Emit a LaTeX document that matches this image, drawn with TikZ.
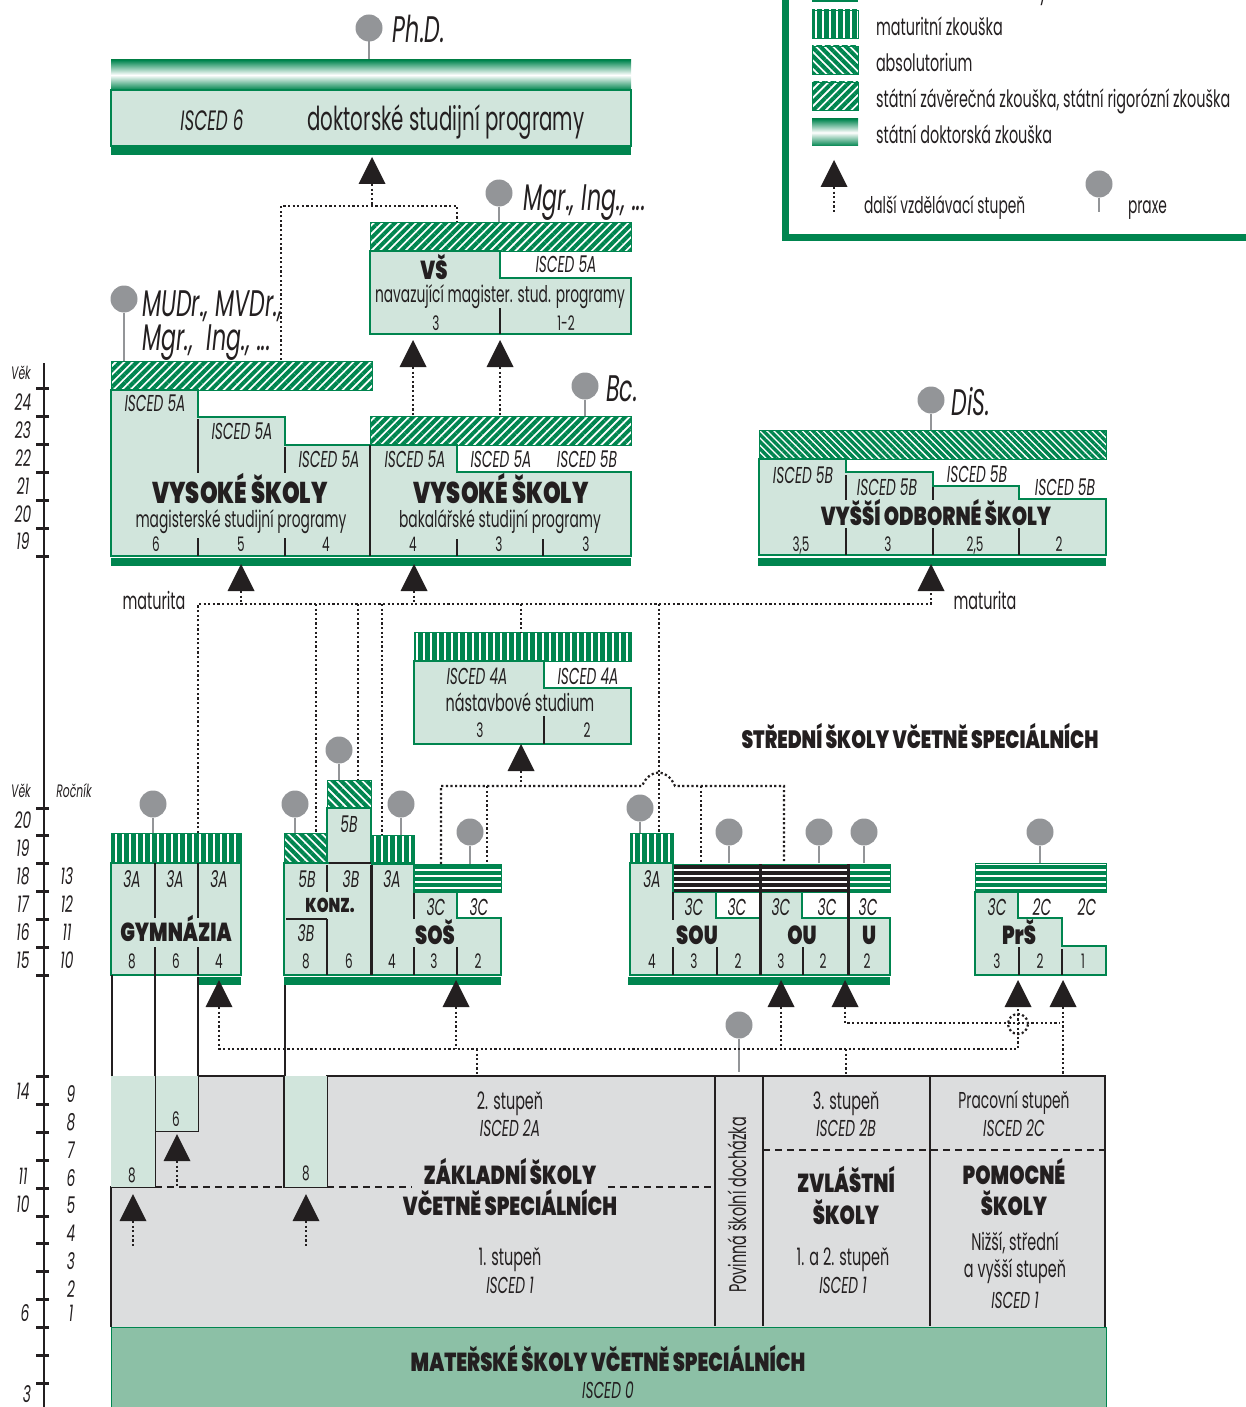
\documentclass[tikz,border=0pt]{standalone}
\usepackage{fontspec}
\setmainfont[FakeStretch=0.6]{Poppins}
\newfontfamily\hvfont[FakeStretch=0.75]{Poppins Black}
\usetikzlibrary{shapes.geometric,patterns.meta}
\definecolor{dgreen}{HTML}{00854F}
\definecolor{lgreen}{HTML}{D1E5DC}
\definecolor{mgreen}{HTML}{8CC0A6}
\definecolor{sgray}{HTML}{DCDDDE}
\definecolor{pgray}{HTML}{939598}
\definecolor{ink}{HTML}{231F20}

\begin{document}
\begin{tikzpicture}[x=1pt,y=-1pt,
  every node/.style={inner sep=0pt, outer sep=0pt, text=ink},
  num/.style={text height=14pt, text depth=0pt, font=\fontsize{20}{21}\selectfont},
  lab/.style={text height=16pt, text depth=0pt, font=\fontsize{24}{26}\selectfont},
  lbs/.style={text height=15pt, text depth=0pt, font=\fontsize{23}{25}\selectfont},
  isc/.style={text height=16pt, text depth=0pt, font=\fontsize{23}{25}\selectfont\itshape},
  sml/.style={text height=12pt, text depth=0pt, font=\fontsize{18}{19}\selectfont\itshape},
  big/.style={text height=26pt, text depth=0pt, font=\fontsize{37}{39}\selectfont\itshape},
  hv/.style={text height=18pt, text depth=0pt, font=\fontsize{26}{28}\hvfont},
  hvbig/.style={text height=21pt, text depth=0pt, font=\fontsize{30}{32}\hvfont},
  box/.style={fill=lgreen, draw=dgreen, line width=1.3pt},
  bar/.style={fill=dgreen},
  zkmat/.style={draw=dgreen, line width=.8pt, pattern={Lines[angle=90,distance=7pt,line width=5pt]}, pattern color=dgreen},
  zkabs/.style={draw=dgreen, line width=.8pt, pattern={Lines[angle=-45,distance=6pt,line width=4pt]}, pattern color=dgreen},
  zkfin/.style={draw=dgreen, line width=.8pt, pattern={Lines[angle=-45,distance=5pt,line width=3.4pt]}, pattern color=dgreen},
  zkst/.style={draw=dgreen, line width=.8pt, pattern={Lines[angle=45,distance=6pt,line width=4pt]}, pattern color=dgreen},
  zkhor/.style={draw=dgreen, line width=.8pt, pattern={Lines[angle=0,distance=6pt,line width=4.4pt]}, pattern color=dgreen},
  zkblk/.style={draw=dgreen, line width=.8pt, pattern={Lines[angle=0,distance=6pt,line width=4.4pt]}, pattern color=ink},
  tik/.style={draw=ink, line width=2pt},
  agetik/.style={draw=ink, line width=3pt},
  wall/.style={draw=ink, line width=3pt},
  rim/.style={draw=ink, line width=1.2pt},
  dashln/.style={draw=ink, line width=1.2pt, dash pattern=on 7pt off 5pt},
  dots/.style={draw=ink, line width=2.2pt, dash pattern=on 2.2pt off 2.4pt},
  stem/.style={draw=pgray, line width=2.2pt},
  pinhead/.style={circle, fill=pgray, minimum size=27pt},
  up/.style={isosceles triangle, shape border rotate=90, isosceles triangle stretches, minimum width=27pt, minimum height=27pt, fill=ink, anchor=apex}]
\useasboundingbox (0,0) rectangle (1246,1407);

% legend
\draw[dgreen, line width=7pt] (785,-20) -- (785,237) -- (1270,237);
\fill[bar] (812,-10) rectangle (858,2);
\path[zkmat] (812,10) rectangle (858,38);
\path[zkabs] (812,46) rectangle (858,74);
\path[zkst] (812,82) rectangle (858,110);
\shade[top color=dgreen, bottom color=dgreen, middle color=white] (812,119) rectangle (858,146);
\node[lab, anchor=west] (lgzav) at (876,-8) {Závěrečná zkouška a výuční list};
\node[lab, anchor=west] (lgmat) at (876,28) {maturitní zkouška};
\node[lab, anchor=west] (lgabs) at (876,64) {absolutorium};
\node[lab, anchor=west] (lgst) at (876,100) {státní závěrečná zkouška, státní rigorózní zkouška};
\node[lab, anchor=west] (lgdok) at (876,136) {státní doktorská zkouška};
\node[up] (lgup) at (834,160) {};
\coordinate (lgupend) at (834,213);
\draw[dots] (lgup.lower side) -- (lgupend);
\node[lbs, anchor=west] (lgdal) at (864,206) {další vzdělávací stupeň};
\node[pinhead] (lgpin) at (1099,184) {};
\coordinate (lgpinend) at (1099,212);
\draw[stem] (lgpin) -- (lgpinend);
\node[lbs, anchor=west] (lgpra) at (1128,206) {praxe};

% age scale
\draw[line width=2.4pt, ink] (44,363) -- (44,1420);
\draw[agetik] (36,388) -- (49,388);
\draw[agetik] (36,416) -- (49,416);
\draw[agetik] (36,444) -- (49,444);
\draw[agetik] (36,472) -- (49,472);
\draw[agetik] (36,500) -- (49,500);
\draw[agetik] (36,528) -- (49,528);
\draw[agetik] (36,556) -- (49,556);
\draw[agetik] (36,808) -- (49,808);
\draw[agetik] (36,835) -- (49,835);
\draw[agetik] (36,863) -- (49,863);
\draw[agetik] (36,891) -- (49,891);
\draw[agetik] (36,919) -- (49,919);
\draw[agetik] (36,947) -- (49,947);
\draw[agetik] (36,975) -- (49,975);
\draw[agetik] (36,1076) -- (49,1076);
\draw[agetik] (36,1104) -- (49,1104);
\draw[agetik] (36,1132) -- (49,1132);
\draw[agetik] (36,1160) -- (49,1160);
\draw[agetik] (36,1188) -- (49,1188);
\draw[agetik] (36,1216) -- (49,1216);
\draw[agetik] (36,1243) -- (49,1243);
\draw[agetik] (36,1271) -- (49,1271);
\draw[agetik] (36,1299) -- (49,1299);
\draw[agetik] (36,1327) -- (49,1327);
\draw[agetik] (36,1355) -- (49,1355);
\draw[agetik] (36,1383) -- (49,1383);

\node[sml] (vek1) at (21,373) {Věk};
\node[isc] (a24) at (23,402) {24};
\node[isc] (a23) at (23,430) {23};
\node[isc] (a22) at (23,458) {22};
\node[isc] (a21) at (23,486) {21};
\node[isc] (a20) at (23,514) {20};
\node[isc] (a19) at (23,541) {19};
\node[sml] (vek2) at (21,791) {Věk};
\node[sml] (roc) at (74,791) {Ročník};
\node[isc] (b20) at (23,820) {20};
\node[isc] (b19) at (23,848) {19};
\node[isc] (b18) at (23,876) {18};
\node[isc] (b17) at (23,904) {17};
\node[isc] (b16) at (23,932) {16};
\node[isc] (b15) at (23,960) {15};
\node[isc] (r13) at (67,876) {13};
\node[isc] (r12) at (67,904) {12};
\node[isc] (r11) at (67,932) {11};
\node[isc] (r10) at (67,960) {10};
\node[isc] (c14) at (23,1091) {14};
\node[isc] (c11) at (23,1176) {11};
\node[isc] (c10) at (23,1204) {10};
\node[isc] (c6) at (25,1313) {6};
\node[isc] (c3) at (27,1394) {3};
\node[isc] (r9) at (71,1094) {9};
\node[isc] (r8) at (71,1122) {8};
\node[isc] (r7) at (71,1150) {7};
\node[isc] (r6) at (71,1178) {6};
\node[isc] (r5) at (71,1205) {5};
\node[isc] (r4) at (71,1233) {4};
\node[isc] (r3) at (71,1261) {3};
\node[isc] (r2) at (71,1289) {2};
\node[isc] (r1) at (71,1313) {1};

% doctoral
\node[pinhead] (phdpin) at (369,28) {};
\coordinate (phdend) at (369,60);
\draw[stem] (phdpin) -- (phdend);
\node[big] (phd) at (419,30) {Ph.D.};
\shade[top color=dgreen, bottom color=dgreen, middle color=white] (111,60) rectangle (631,90);
\path[box] (111,90) rectangle (631,146);
\fill[bar] (111,147) rectangle (631,155);
\node[isc, text height=20pt, font=\fontsize{28}{30}\selectfont\itshape] (isc6) at (212,121) {ISCED 6};
\node[lab, text height=21pt, font=\fontsize{33}{35}\selectfont] (dokt) at (446,120) {doktorské studijní programy};

% navazujici VS
\path[box] (370,251) -- (500,251) -- (500,278) -- (631,278) -- (631,334) -- (370,334) -- cycle;
\path[zkst] (370,222) rectangle (631,251);
\draw[tik] (500,308) -- (500,334);
\node[pinhead] (mgrpin) at (499,193) {};
\coordinate (mgrend) at (499,222);
\draw[stem] (mgrpin) -- (mgrend);
\node[big] (mgr) at (585,198) {Mgr., Ing., ...};
\node[hv] (vs) at (434,270) {VŠ};
\node[isc] (vs5a) at (566,264) {ISCED 5A};
\node[lbs] (vsnav) at (500,295) {navazující magister. stud. programy};
\node[num] (vs3) at (436,323) {3};
\node[num] (vs12) at (566,323) {1-2};

% vysoke skoly
\path[box] (111,390) -- (198,390) -- (198,417) -- (285,417) -- (285,445) -- (457,445) -- (457,472) -- (631,472) -- (631,556) -- (111,556) -- cycle;
\path[zkst] (111,361) rectangle (372,390);
\path[zkst] (370,416) rectangle (631,445);
\fill[bar] (111,558) rectangle (631,566);
\draw[tik] (198,419) -- (198,473);
\draw[tik] (285,447) -- (285,473);
\draw[tik] (198,538) -- (198,556);
\draw[tik] (285,538) -- (285,556);
\draw[tik] (370,445) -- (370,556);
\draw[tik] (457,539) -- (457,556);
\draw[tik] (543,539) -- (543,556);
\node[pinhead] (mudpin) at (124,299) {};
\coordinate (mudend) at (124,361);
\draw[stem] (mudpin) -- (mudend);
\node[big, anchor=west] (mud) at (142,303) {MUDr., MVDr.,};
\node[big, anchor=west] (mud2) at (142,337) {Mgr.,\ \ Ing., ...};
\node[pinhead] (bcpin) at (585,386) {};
\coordinate (bcend) at (585,416);
\draw[stem] (bcpin) -- (bcend);
\node[big] (bc) at (622,388) {Bc.};
\node[isc] (v1) at (155,403) {ISCED 5A};
\node[isc] (v2) at (242,431) {ISCED 5A};
\node[isc] (v3) at (329,459) {ISCED 5A};
\node[isc] (v4) at (415,459) {ISCED 5A};
\node[isc] (v5) at (501,459) {ISCED 5A};
\node[isc] (v6) at (587,459) {ISCED 5B};
\node[hvbig] (vsm) at (240,493) {VYSOKÉ ŠKOLY};
\node[hvbig] (vsb) at (501,493) {VYSOKÉ ŠKOLY};
\node[lbs] (mag) at (241,520) {magisterské studijní programy};
\node[lbs] (bak) at (500,520) {bakalářské studijní programy};
\node[num] (n6) at (156,544) {6};
\node[num] (n5) at (241,544) {5};
\node[num] (n4) at (326,544) {4};
\node[num] (n4b) at (413,544) {4};
\node[num] (n3) at (499,544) {3};
\node[num] (n3b) at (586,544) {3};

% vyssi odborne
\path[box] (759,459) -- (846,459) -- (846,472) -- (933,472) -- (933,486) -- (1019,486) -- (1019,499) -- (1106,499) -- (1106,555) -- (759,555) -- cycle;
\path[zkfin] (759,430) rectangle (1106,459);
\fill[bar] (758,558) rectangle (1106,566);
\draw[tik] (846,475) -- (846,500);
\draw[tik] (933,487) -- (933,500);
\draw[tik] (846,528) -- (846,555);
\draw[tik] (933,528) -- (933,555);
\draw[tik] (1019,528) -- (1019,555);
\node[pinhead] (dispin) at (931,400) {};
\coordinate (disend) at (931,430);
\draw[stem] (dispin) -- (disend);
\node[big] (dis) at (971,402) {DiS.};
\node[isc] (o1) at (803,475) {ISCED 5B};
\node[isc] (o2) at (887,487) {ISCED 5B};
\node[isc] (o3) at (977,474) {ISCED 5B};
\node[isc] (o4) at (1065,487) {ISCED 5B};
\node[hv] (vos) at (936,516) {VYŠŠÍ ODBORNÉ ŠKOLY};
\node[num] (o35) at (801,544) {3,5};
\node[num] (o3n) at (888,544) {3};
\node[num] (o25) at (975,544) {2,5};
\node[num] (o2n) at (1059,544) {2};
\node[lab] (mat1) at (154,601) {maturita};
\node[lab] (mat2) at (985,601) {maturita};

% nastavbove
\path[box] (414,661) -- (544,661) -- (544,688) -- (631,688) -- (631,744) -- (414,744) -- cycle;
\path[zkmat] (414,632) rectangle (631,661);
\draw[ink, line width=1.1pt] (544,716) -- (544,744);
\node[isc] (n41) at (477,676) {ISCED 4A};
\node[isc] (n42) at (588,676) {ISCED 4A};
\node[lab] (nast) at (520,703) {nástavbové studium};
\node[num] (ns3) at (480,730) {3};
\node[num] (ns2) at (587,730) {2};
\node[hv, font=\fontsize{25}{27}\hvfont] (ss) at (920,739) {STŘEDNÍ ŠKOLY VČETNĚ SPECIÁLNÍCH};

% gymnazia
\path[box] (111,863) rectangle (241,975);
\path[zkmat] (111,833) rectangle (241,863);
\fill[bar] (198,977) rectangle (241,985);
\draw[tik] (155,863) -- (155,918);
\draw[tik] (198,863) -- (198,918);
\draw[tik] (155,947) -- (155,1131);
\draw[tik] (198,947) -- (198,975);
\draw[tik] (112,975) -- (112,1076);
\draw[rim] (198,977) -- (198,1076);
\node[pinhead] (gympin) at (153,804) {};
\coordinate (gymend) at (153,833);
\draw[stem] (gympin) -- (gymend);
\node[isc] (g1) at (132,879) {3A};
\node[isc] (g2) at (175,879) {3A};
\node[isc] (g3) at (219,879) {3A};
\node[hv] (gym) at (176,932) {GYMNÁZIA};
\node[num] (g8) at (132,961) {8};
\node[num] (g6) at (176,961) {6};
\node[num] (g4) at (219,961) {4};

% konz + sos
\path[box] (284,863) -- (414,863) -- (414,892) -- (457,892) -- (457,918) -- (501,918) -- (501,975) -- (284,975) -- cycle;
\path[box] (327,808) rectangle (371,863);
\path[zkabs] (284,833) rectangle (327,863);
\path[zkabs] (327,780) rectangle (371,808);
\path[zkmat] (371,835) rectangle (414,864);
\path[zkhor] (414,864) rectangle (501,892);
\fill[bar] (284,977) rectangle (501,985);
\draw[tik] (329,863) -- (371,863);
\draw[tik] (327,865) -- (327,892);
\draw[tik] (286,919) -- (327,919);
\draw[tik] (327,919) -- (327,975);
\draw[wall] (371,865) -- (371,975);
\draw[tik] (414,893) -- (414,919);
\draw[tik] (414,947) -- (414,975);
\draw[tik] (457,947) -- (457,975);
\draw[tik] (285,985) -- (285,1076);
\node[pinhead] (konpin) at (295,804) {};
\coordinate (konend) at (295,833);
\draw[stem] (konpin) -- (konend);
\node[pinhead] (konpin2) at (339,750) {};
\coordinate (konend2) at (339,780);
\draw[stem] (konpin2) -- (konend2);
\node[pinhead] (sospin) at (401,804) {};
\coordinate (sosend) at (401,835);
\draw[stem] (sospin) -- (sosend);
\node[pinhead] (sospin2) at (470,832) {};
\coordinate (sosend2) at (470,864);
\draw[stem] (sospin2) -- (sosend2);
\node[isc] (k5bt) at (349,824) {5B};
\node[isc] (k5b) at (307,879) {5B};
\node[isc] (k3b) at (351,879) {3B};
\node[hv, font=\fontsize{20}{22}\hvfont, text height=14pt] (konz) at (330,905) {KONZ.};
\node[isc] (k3c) at (306,933) {3B};
\node[isc] (s3a) at (392,879) {3A};
\node[isc] (s3c) at (436,907) {3C};
\node[isc] (s3d) at (479,907) {3C};
\node[hv] (sos) at (435,935) {SOŠ};
\node[num] (k8) at (306,961) {8};
\node[num] (k6) at (349,961) {6};
\node[num] (s4) at (392,961) {4};
\node[num] (s3) at (434,961) {3};
\node[num] (s2) at (478,961) {2};

% sou + ou + u
\path[box] (630,863) -- (673,863) -- (673,892) -- (716,892) -- (716,918) -- (760,918) -- (760,892) -- (802,892) -- (802,918) -- (890,918) -- (890,975) -- (630,975) -- cycle;
\path[zkmat] (630,833) rectangle (673,863);
\path[zkblk] (673,864) rectangle (848,892);
\path[zkhor] (848,864) rectangle (890,892);
\fill[bar] (628,977) rectangle (890,985);
\draw[tik] (673,892) -- (673,920);
\draw[tik] (673,947) -- (673,975);
\draw[tik] (717,947) -- (717,975);
\draw[wall] (760,864) -- (760,975);
\draw[tik] (803,947) -- (803,975);
\draw[wall] (848,864) -- (848,975);
\node[pinhead] (soupin) at (640,808) {};
\coordinate (souend) at (640,833);
\draw[stem] (soupin) -- (souend);
\node[pinhead] (soupin2) at (729,832) {};
\coordinate (souend2) at (729,863);
\draw[stem] (soupin2) -- (souend2);
\node[pinhead] (oupin) at (819,832) {};
\coordinate (ouend) at (819,863);
\draw[stem] (oupin) -- (ouend);
\node[pinhead] (upin) at (864,832) {};
\coordinate (uend) at (864,863);
\draw[stem] (upin) -- (uend);
\node[isc] (u3a) at (652,879) {3A};
\node[isc] (u3c1) at (694,907) {3C};
\node[isc] (u3c2) at (737,907) {3C};
\node[isc] (u3c3) at (781,907) {3C};
\node[isc] (u3c4) at (827,907) {3C};
\node[isc] (u3c5) at (868,907) {3C};
\node[hv] (sou) at (697,935) {SOU};
\node[hv] (ou) at (802,935) {OU};
\node[hv] (ubig) at (869,935) {U};
\node[num] (u4) at (652,961) {4};
\node[num] (u3) at (694,961) {3};
\node[num] (u2) at (738,961) {2};
\node[num] (u3b) at (781,961) {3};
\node[num] (u2b) at (823,961) {2};
\node[num] (u2c) at (867,961) {2};

% prs
\path[box] (975,892) -- (1018,892) -- (1018,918) -- (1062,918) -- (1062,946) -- (1106,946) -- (1106,975) -- (975,975) -- cycle;
\path[zkhor] (975,863) rectangle (1106,892);
\draw[tik] (1019,947) -- (1019,975);
\draw[tik] (1062,949) -- (1062,975);
\node[pinhead] (prspin) at (1040,832) {};
\coordinate (prsend) at (1040,863);
\draw[stem] (prspin) -- (prsend);
\node[isc] (p3c) at (997,907) {3C};
\node[isc] (p2c) at (1042,907) {2C};
\node[isc] (p2d) at (1087,907) {2C};
\node[hv] (prs) at (1019,935) {PrŠ};
\node[num] (p3) at (997,961) {3};
\node[num] (p2) at (1040,961) {2};
\node[num] (p1) at (1083,961) {1};

% zakladni skoly
\path[fill=sgray, draw=ink, line width=1.2pt] (111,1327) -- (111,1187) -- (155,1187) -- (155,1131) -- (198,1131) -- (198,1076) -- (284,1076) -- (284,1187) -- (327,1187) -- (327,1076) -- (1105,1076) -- (1105,1327);
\fill[lgreen] (111,1076) rectangle (154.5,1186.5);
\fill[lgreen] (155.5,1076) rectangle (197.5,1130.5);
\fill[lgreen] (284.5,1076) rectangle (326.5,1186.5);
\fill[mgreen] (111,1327) rectangle (1106,1420);
\draw[dgreen, line width=1pt] (111,1327) -- (1106,1327);
\draw[dgreen, line width=1pt] (111,1327) -- (111,1420);
\draw[dgreen, line width=1pt] (1106,1327) -- (1106,1420);
\draw[rim, line width=1.6pt] (715,1076) -- (715,1326);
\draw[rim, line width=1.6pt] (763,1076) -- (763,1326);
\draw[rim, line width=1.6pt] (930,1076) -- (930,1326);
\draw[dashln] (155,1187) -- (284,1187);
\draw[dashln] (327,1187) -- (412,1187);
\draw[dashln] (608,1187) -- (714,1187);
\draw[dashln] (763,1150) -- (1105,1150);
\node[num] (z8) at (132,1175) {8};
\node[num] (z6) at (176,1119) {6};
\node[num] (z8b) at (306,1173) {8};
\node[lab] (st2) at (510,1101) {2. stupeň};
\node[isc] (i2a) at (510,1128) {ISCED 2A};
\node[hv] (zs1) at (510,1175) {ZÁKLADNÍ ŠKOLY};
\node[hv] (zs2) at (510,1206) {VČETNĚ SPECIÁLNÍCH};
\node[lab] (st1) at (510,1257) {1. stupeň};
\node[isc] (i1) at (510,1285) {ISCED 1};
\node[lab, rotate=90] (pov) at (738,1205) {Povinná školní docházka};
\node[lab] (st3) at (846,1101) {3. stupeň};
\node[isc] (i2b) at (846,1128) {ISCED 2B};
\node[hv] (zv1) at (846,1183) {ZVLÁŠTNÍ};
\node[hv] (zv2) at (846,1215) {ŠKOLY};
\node[lab] (st12) at (843,1257) {1. a 2. stupeň};
\node[isc] (i1b) at (843,1285) {ISCED 1};
\node[lbs] (pr) at (1014,1101) {Pracovní stupeň};
\node[isc] (i2c) at (1014,1128) {ISCED 2C};
\node[hv] (po1) at (1014,1175) {POMOCNÉ};
\node[hv] (po2) at (1014,1206) {ŠKOLY};
\node[lab] (niz) at (1015,1242) {Nižší, střední};
\node[lab] (vys) at (1015,1269) {a vyšší stupeň};
\node[isc] (i1c) at (1015,1300) {ISCED 1};
\node[hv] (ms) at (608,1362) {MATEŘSKÉ ŠKOLY VČETNĚ SPECIÁLNÍCH};
\node[isc] (i0) at (608,1390) {ISCED 0};
\node[pinhead] (povpin) at (739,1025) {};
\coordinate (povend) at (739,1072);
\draw[stem] (povpin) -- (povend);

% arrows
\node[up] (tphd) at (372,157) {};
\node[up] (tvs1) at (413,340) {};
\node[up] (tvs2) at (500,340) {};
\node[up] (tmag) at (241,564) {};
\node[up] (tbak) at (414,564) {};
\node[up] (tvos) at (931,564) {};
\node[up] (tnas) at (521,744) {};
\node[up] (tgym) at (219,980) {};
\node[up] (tsos) at (456,980) {};
\node[up] (tou) at (781,980) {};
\node[up] (tu) at (845,980) {};
\node[up] (tprs) at (1018,980) {};
\node[up] (tprs2) at (1063,980) {};
\node[up] (tz6) at (177,1134) {};
\node[up] (tz8) at (133,1194) {};
\node[up] (tz8b) at (306,1194) {};

% dotted routes
\coordinate (phdj) at (372,206);
\coordinate (phdl) at (281,206);
\coordinate (phdr) at (457,206);
\coordinate (phdls) at (281,360);
\coordinate (phdrs) at (457,222);
\coordinate (vs1s) at (413,416);
\coordinate (vs2s) at (500,416);
\draw[dots] (tphd.lower side) -- (phdj);
\draw[dots] (phdls) -- (phdl) -- (phdr) -- (phdrs);
\draw[dots] (tvs1.lower side) -- (vs1s);
\draw[dots] (tvs2.lower side) -- (vs2s);

\coordinate (matl) at (198,604);
\coordinate (matr) at (931,604);
\coordinate (matmag) at (241,604);
\coordinate (matbak) at (414,604);
\coordinate (matk1) at (316,604);
\coordinate (matk2) at (358,604);
\coordinate (matk3) at (382,604);
\coordinate (matns) at (521,604);
\coordinate (matso) at (659,604);
\coordinate (gyms) at (198,833);
\coordinate (k1s) at (316,833);
\coordinate (k2s) at (358,780);
\coordinate (k3s) at (382,835);
\coordinate (nss) at (521,632);
\coordinate (sos3a) at (659,833);
\draw[dots] (gyms) -- (matl) -- (matr) -- (tvos.lower side);
\draw[dots] (tmag.lower side) -- (matmag);
\draw[dots] (tbak.lower side) -- (matbak);
\draw[dots] (matk1) -- (k1s);
\draw[dots] (matk2) -- (k2s);
\draw[dots] (matk3) -- (k3s);
\draw[dots] (matns) -- (nss);
\draw[dots] (matso) -- (sos3a);

\coordinate (nasj) at (521,786);
\coordinate (nasl) at (441,786);
\coordinate (nasa) at (642,786);
\coordinate (nasb) at (675,786);
\coordinate (nasr) at (784,786);
\coordinate (naslb) at (441,864);
\coordinate (nasm) at (487,786);
\coordinate (nasmb) at (487,864);
\coordinate (nasn) at (701,786);
\coordinate (nasnb) at (701,863);
\coordinate (nasrb) at (784,863);
\draw[dots] (tnas.lower side) -- (nasj);
\draw[dots] (naslb) -- (nasl) -- (nasa) .. controls (650,768) and (667,768) .. (nasb) -- (nasr) -- (nasrb);
\draw[dots] (nasm) -- (nasmb);
\draw[dots] (nasn) -- (nasnb);

\coordinate (zaksl) at (219,1049);
\coordinate (zaksr) at (1018,1049);
\coordinate (zaks1) at (456,1049);
\coordinate (zaks2) at (781,1049);
\coordinate (zakv1) at (477,1049);
\coordinate (zakv1b) at (477,1075);
\coordinate (zakv2) at (846,1049);
\coordinate (zakv2b) at (846,1075);
\coordinate (uj) at (845,1023);
\coordinate (prsj) at (1060,1023);
\coordinate (prs2b) at (1063,1075);
\draw[dots] (tgym.lower side) -- (zaksl) -- (zaksr) -- (tprs.lower side);
\draw[dots] (tsos.lower side) -- (zaks1);
\draw[dots] (tou.lower side) -- (zaks2);
\draw[dots] (zakv1) -- (zakv1b);
\draw[dots] (zakv2) -- (zakv2b);
\draw[dots] (tu.lower side) -- (uj) -- (prsj);
\draw[dots] (tprs2.lower side) -- (prs2b);
\node[circle, minimum size=20pt, dots] (cross) at (1018,1024) {};

\coordinate (z6s) at (177,1187);
\coordinate (z8s) at (133,1248);
\coordinate (z8bs) at (306,1248);
\draw[dots] (tz6.lower side) -- (z6s);
\draw[dots] (tz8.lower side) -- (z8s);
\draw[dots] (tz8b.lower side) -- (z8bs);
\end{tikzpicture}
\end{document}
